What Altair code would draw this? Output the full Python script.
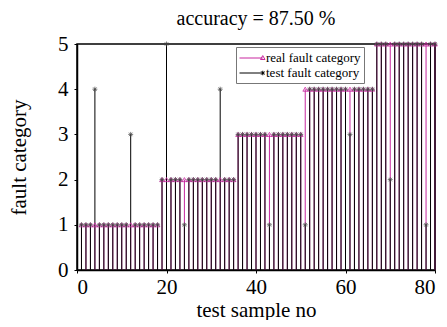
import altair as alt
import pandas as pd

# ---- data ----
sample_no = list(range(1, 81))
real_category = [
    1, 1, 1, 1, 1, 1, 1, 1, 1, 1, 1, 1, 1, 1, 1, 1, 1, 1,
    2, 2, 2, 2, 2, 2, 2, 2, 2, 2, 2, 2, 2, 2, 2, 2, 2,
    3, 3, 3, 3, 3, 3, 3, 3, 3, 3, 3, 3, 3, 3, 3,
    4, 4, 4, 4, 4, 4, 4, 4, 4, 4, 4, 4, 4, 4, 4, 4,
    5, 5, 5, 5, 5, 5, 5, 5, 5, 5, 5, 5, 5, 5,
]
test_category = [
    1, 1, 1, 4, 1, 1, 1, 1, 1, 1, 1, 3, 1, 1, 1, 1, 1, 1,
    2, 5, 2, 2, 2, 1, 2, 2, 2, 2, 2, 2, 2, 4, 2, 2, 2,
    3, 3, 3, 3, 3, 3, 3, 1, 3, 3, 3, 3, 3, 3, 3,
    1, 4, 4, 4, 4, 4, 4, 4, 4, 4, 3, 4, 4, 4, 4, 4,
    5, 5, 5, 2, 5, 5, 5, 5, 5, 5, 5, 1, 5, 5,
]
series_names = ["real fault category", "test fault category"]
title_text = "accuracy = 87.50 %"

MAGENTA = "#c8269f"
BLACK = "#000000"
FONT = "Liberation Serif"

df = pd.DataFrame({"sample": sample_no, "real": real_category, "test": test_category})
legend_df = pd.DataFrame({"series": series_names})

asterisk = "M-1,0H1M0,-1V1M-0.7,-0.7L0.7,0.7M-0.7,0.7L0.7,-0.7"
# legend symbols: line with a marker at its right end (unit = half the symbol box)
legend_tri = "M-1,0H2.1M2.1,-0.32L2.4,0.2L1.8,0.2Z"
legend_ast = "M-1,0H2.35M2.1,-0.3V0.3M1.88,-0.22L2.32,0.22M1.88,0.22L2.32,-0.22"

xs = alt.Scale(domain=[0, 80], nice=False, zero=False)
ys = alt.Scale(domain=[0, 5], nice=False)

x_enc = alt.X("sample:Q", scale=xs,
              axis=alt.Axis(values=[0, 20, 40, 60, 80], title="test sample no",
                            titlePadding=2))
y_axis = alt.Axis(values=[0, 1, 2, 3, 4, 5], title="fault category", titlePadding=28,
                  labelPadding=6)

base = alt.Chart(df)

real_stems = base.mark_rule(color=MAGENTA, strokeWidth=1).encode(
    x=x_enc, y=alt.Y("zero:Q", scale=ys, axis=y_axis), y2="real:Q"
).transform_calculate(zero="0")

test_stems = base.mark_rule(color=BLACK, strokeWidth=1).encode(
    x=x_enc, y=alt.Y("zero:Q", scale=ys, axis=y_axis), y2="test:Q"
).transform_calculate(zero="0")

real_pts = base.mark_point(shape="triangle-up", filled=False, color=MAGENTA,
                           size=22, strokeWidth=0.8, opacity=1).encode(
    x=x_enc, y=alt.Y("real:Q", scale=ys, axis=y_axis)
)

test_pts = base.mark_point(shape=asterisk, filled=False, color="#444444",
                           size=25, strokeWidth=0.7, opacity=1).encode(
    x=x_enc, y=alt.Y("test:Q", scale=ys, axis=y_axis)
)

legend_layer = alt.Chart(legend_df).mark_point(filled=False, opacity=1).encode(
    color=alt.Color("series:N",
                    scale=alt.Scale(domain=series_names, range=[MAGENTA, BLACK]),
                    legend=alt.Legend(title=None, orient="none", legendX=159, legendY=3,
                                      labelFont=FONT, labelFontSize=13, labelColor="black",
                                      symbolSize=225, symbolStrokeWidth=1,
                                      strokeColor="#777777", fillColor="white",
                                      padding=3, rowPadding=0, labelOffset=11,
                                      symbolFillColor="transparent")),
    shape=alt.Shape("series:N",
                    scale=alt.Scale(domain=series_names, range=[legend_tri, legend_ast]),
                    legend=alt.Legend(title=None)),
).transform_filter("false")

chart = alt.layer(real_stems, test_stems, real_pts, test_pts, legend_layer).properties(
    width=358, height=226,
    title=alt.TitleParams(title_text, font=FONT, fontSize=20, fontWeight="normal",
                          anchor="middle", offset=4, color="black"),
    padding={"left": 0, "top": 1, "right": 0, "bottom": 0},
).configure(font=FONT).configure_view(stroke="black", strokeWidth=1.5).configure_axis(
    labelFont=FONT, labelFontSize=21, labelColor="black",
    titleFont=FONT, titleFontSize=21, titleFontWeight="normal", titleColor="black",
    grid=False, tickColor="black", tickSize=3, domainColor="black", domainWidth=1.5,
    labelPadding=3,
)

chart.save("out.html", embed_options={"renderer": "svg", "actions": False})
